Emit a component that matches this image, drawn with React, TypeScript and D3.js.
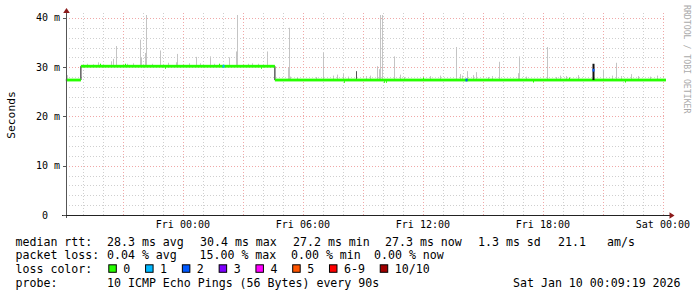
import React from "react";
import * as d3 from "d3";

// ---------- data (hours relative to Fri 00:00, values in ms) ----------
const medianSteps: [number, number][] = [
  [-5.85, 27.4],
  [-5.1, 30.2],
  [4.6, 27.4],
  [24.15, 27.4],
];

const smokeSpikes: [number, number][] = [
  [-5.8, 28.4], [-4.25, 31.0], [-3.6, 31.2], [-3.5, 31.7], [-3.35, 34.3],
  [-2.15, 35.6], [-2.1, 31.9], [-1.9, 32.9], [-1.85, 40.6], [-1.15, 33.4],
  [-0.75, 30.9], [-0.35, 31.0], [-0.3, 32.7], [0.65, 32.1], [1.35, 32.2],
  [2.3, 32.0], [2.65, 33.2], [2.7, 40.6], [4.2, 33.2], [5.25, 29.9],
  [5.3, 38.0], [7.0, 32.9], [9.7, 30.2], [9.8, 29.6], [9.85, 40.6],
  [9.95, 41.0], [10.55, 32.2], [13.65, 34.1], [14.2, 29.2], [14.65, 29.0],
  [15.8, 31.1], [16.75, 28.8], [16.8, 32.2], [18.2, 34.1], [21.0, 29.5],
  [21.65, 30.9], [22.4, 28.6],
  // small smoke just above the median
  [-4.8, 30.7], [-4.5, 30.6], [-2.8, 30.7], [-2.5, 30.8], [-1.55, 30.7],
  [0.3, 30.8], [0.85, 30.8], [1.55, 30.7], [3.25, 30.7], [3.45, 30.8],
  [3.75, 30.7], [5.35, 28.1], [5.7, 28.0], [6.65, 28.0], [7.5, 28.3],
  [7.7, 28.5], [8.0, 28.6], [8.25, 28.1], [9.15, 28.2], [9.35, 28.3],
  [10.85, 28.5], [11.05, 28.0], [12.35, 28.2], [12.85, 28.3], [13.85, 28.6],
  [13.95, 28.3], [14.5, 28.4], [15.25, 28.0], [15.45, 28.2], [17.15, 28.1],
  [18.65, 28.0], [18.85, 28.3], [19.15, 28.2], [19.75, 28.4], [21.45, 28.3],
  [21.9, 28.2], [22.75, 28.2], [23.35, 28.1], [23.7, 28.3],
];

const darkSmoke: [number, number][] = [[8.65, 29.2]];

const medianSpikes: [number, number][] = [[20.5, 30.7]];

// [hour, value, loss color index]
const lossMarks: [number, number, number][] = [
  [2.0, 30.2, 1],
  [14.15, 27.4, 2],
  [20.5, 29.4, 2],
];

// green median jitter [hour, value]
const medianJitter: [number, number][] = [
  [-4.15, 30.55], [-2.9, 30.55], [-0.9, 29.85], [1.8, 30.55], [3.9, 29.85],
  [8.05, 27.0], [10.05, 27.0], [10.15, 27.0], [12.0, 27.75], [17.5, 27.05],
  [19.3, 27.75], [22.1, 27.05],
];

const yMajorTicks = [0, 10, 20, 30, 40];
const lossLabels = ["0", "1", "2", "3", "4", "5", "6-9", "10/10"];
const lossColors = ["#26ff00", "#00b8ff", "#0059ff", "#7e00ff", "#ff00ff", "#ff5500", "#ff0000", "#a10000"];

const legendRtt: [string, number][] = [
  ["median rtt:", 15.5], ["28.3 ms avg", 107], ["30.4 ms max", 200], ["27.2 ms min", 293],
  ["27.3 ms now", 385], ["1.3 ms sd", 478], ["21.1", 558], ["am/s", 607],
];
const legendLoss: [string, number][] = [
  ["packet loss:", 15.5], ["0.04 % avg", 107], ["15.00 % max", 199.5], ["0.00 % min", 291], ["0.00 % now", 374],
];
const legendProbe: [string, number][] = [
  ["probe:", 15.5], ["10 ICMP Echo Pings (56 Bytes) every 90s", 107], ["Sat Jan 10 00:09:19 2026", 513],
];

// ---------- chart ----------
const FRI = new Date(2026, 0, 9, 0, 0, 0).getTime();
const START = new Date(2026, 0, 8, 18, 9, 19);
const END = new Date(2026, 0, 10, 0, 9, 19);
const hd = (h: number) => new Date(FRI + h * 3600e3);

const W = 697, H = 297;
const L = 66, R = 666, T = 15, B = 215;

export default function App() {
  const x = d3.scaleTime().domain([START, END]).range([L, R]);
  const y = d3.scaleLinear().domain([0, 40.6]).range([B, T]);
  const xh = (h: number) => x(hd(h));

  const hours = d3.timeHour.every(1)!.range(START, END);
  const yMinor = d3.range(0, 41, 2);

  const medianAt = (h: number) => {
    let v = medianSteps[0][1];
    for (const [s, val] of medianSteps) if (h >= s) v = val;
    return v;
  };

  // black median step path
  let path = `M${xh(medianSteps[0][0])},${y(medianSteps[0][1])}`;
  for (let i = 1; i < medianSteps.length; i++) {
    path += `H${xh(medianSteps[i][0])}V${y(medianSteps[i][1])}`;
  }

  const mono = "'DejaVu Sans Mono', monospace";
  const fmt = d3.timeFormat("%a %H:%M");

  const legendFont = 11.6;
  const cw = 6.98;
  let bx = 108.3;
  const boxes = lossLabels.map((lab, i) => {
    const item = { x: bx, lab, color: lossColors[i] };
    bx += 15 + lab.length * cw + 14.8;
    return item;
  });

  const base = [245.5, 259.2, 272.9, 286.6];

  return (
    <svg width={W} height={H} style={{ position: "fixed", left: 0, top: 0, display: "block", background: "#fff" }}>
      <rect width={W} height={H} fill="#fff" />
      {/* horizontal grid */}
      {yMinor.filter((v) => v % 10 !== 0).map((v) => (
        <line key={"ym" + v} x1={L} x2={R} y1={Math.round(y(v)) + 0.5} y2={Math.round(y(v)) + 0.5}
          stroke="#cfcfcf" strokeWidth={1} strokeDasharray="1,2" />
      ))}
      {hours.filter((d) => d.getHours() % 3 !== 0).map((d, i) => (
        <line key={"xm" + i} x1={Math.round(x(d)) + 0.5} x2={Math.round(x(d)) + 0.5} y1={T - 2} y2={B}
          stroke="#cfcfcf" strokeWidth={1} strokeDasharray="1,2" />
      ))}
      {yMajorTicks.filter((v) => v > 0).map((v) => (
        <line key={"yM" + v} x1={L} x2={R} y1={Math.round(y(v)) + 0.5} y2={Math.round(y(v)) + 0.5}
          stroke="#f0a8a8" strokeWidth={1} strokeDasharray="1,2" />
      ))}
      {hours.filter((d) => d.getHours() % 3 === 0).map((d, i) => (
        <line key={"xM" + i} x1={Math.round(x(d)) + 0.5} x2={Math.round(x(d)) + 0.5} y1={T - 2} y2={B}
          stroke="#f0a8a8" strokeWidth={1} strokeDasharray="1,2" />
      ))}

      {/* smoke */}
      {smokeSpikes.map(([h, v], i) => {
        const xx = Math.round(xh(h));
        const top = Math.max(T, y(v));
        const bot = y(medianAt(h));
        return <rect key={"s" + i} x={xx} y={top} width={1} height={Math.max(0, bot - top)} fill="#c4c4c4" />;
      })}
      {darkSmoke.map(([h, v], i) => {
        const xx = Math.round(xh(h));
        const top = y(v);
        const bot = y(medianAt(h));
        return <rect key={"ds" + i} x={xx} y={top} width={1} height={bot - top} fill="#555" />;
      })}

      {/* median */}
      <path d={path} fill="none" stroke="#111" strokeWidth={1} />
      {medianSteps.slice(0, -1).map(([s, v], i) => (
        <rect key={"m" + i} x={xh(s)} y={y(v) - 1.4} width={xh(medianSteps[i + 1][0]) - xh(s)} height={2.8} fill={lossColors[0]} />
      ))}
      {medianJitter.map(([h, v], i) => (
        <rect key={"j" + i} x={Math.round(xh(h))} y={y(v) - 0.8} width={1} height={1.6} fill={lossColors[0]} />
      ))}
      {medianSpikes.map(([h, v], i) => {
        const bot = y(medianAt(h));
        const top = y(v);
        return <rect key={"ms" + i} x={Math.round(xh(h)) - 0.5} y={top} width={2} height={bot - top} fill="#111" />;
      })}
      {lossMarks.map(([h, v, c], i) => (
        <rect key={"l" + i} x={Math.round(xh(h)) - 0.5} y={y(v) - 1.4} width={2} height={2.8} fill={lossColors[c]} />
      ))}

      {/* axes */}
      <line x1={L + 0.5} x2={L + 0.5} y1={11} y2={B + 3} stroke="#555" strokeWidth={1} />
      <line x1={62} x2={670} y1={B + 0.5} y2={B + 0.5} stroke="#222" strokeWidth={1} />
      {yMajorTicks.map((v) => (
        <line key={"yt" + v} x1={L - 3} x2={L} y1={Math.round(y(v)) + 0.5} y2={Math.round(y(v)) + 0.5} stroke="#555" />
      ))}
      <path d={`M${L + 0.5},8 L${L + 3.8},13 L${L - 2.8},13 Z`} fill="#8b1a1a" />
      <path d={`M674.5,${B + 0.5} L669.5,${B - 2.8} L669.5,${B + 3.8} Z`} fill="#8b1a1a" />

      {/* y labels */}
      {yMajorTicks.map((v) => (
        <text key={"yl" + v} x={60} y={y(v) + 3.5} textAnchor="end" fontFamily={mono} fontSize={10}
          fill="#000" style={{ whiteSpace: "pre" }} xmlSpace="preserve">
          {v === 0 ? "0  " : `${v} m`}
        </text>
      ))}
      {/* x labels */}
      {hours.filter((d) => d.getHours() % 6 === 0).map((d, i) => (
        <text key={"xl" + i} x={x(d)} y={228} textAnchor="middle" fontFamily={mono} fontSize={10} fill="#000">
          {fmt(d)}
        </text>
      ))}
      <text transform={`translate(14.5,${(T + B) / 2}) rotate(-90)`} textAnchor="middle" fontFamily={mono}
        fontSize={11.3} fill="#000">Seconds</text>
      <text transform={`translate(684,5) rotate(90)`} fontFamily={mono} fontSize={8.2} fill="#aaa">
        RRDTOOL / TOBI OETIKER
      </text>

      {/* legend */}
      {legendRtt.map(([t, xx], i) => (
        <text key={"r" + i} x={xx} y={base[0]} fontFamily={mono} fontSize={legendFont} fill="#000">{t}</text>
      ))}
      {legendLoss.map(([t, xx], i) => (
        <text key={"p" + i} x={xx} y={base[1]} fontFamily={mono} fontSize={legendFont} fill="#000">{t}</text>
      ))}
      <text x={15.5} y={base[2]} fontFamily={mono} fontSize={legendFont} fill="#000">loss color:</text>
      {boxes.map((b, i) => (
        <g key={"b" + i}>
          <rect x={b.x + 0.5} y={base[2] - 8.1} width={7.5} height={7.5} fill={b.color} stroke="#000" strokeWidth={1} />
          <text x={b.x + 15} y={base[2]} fontFamily={mono} fontSize={legendFont} fill="#000">{b.lab}</text>
        </g>
      ))}
      {legendProbe.map(([t, xx], i) => (
        <text key={"q" + i} x={xx} y={base[3]} fontFamily={mono} fontSize={legendFont} fill="#000">{t}</text>
      ))}
    </svg>
  );
}
